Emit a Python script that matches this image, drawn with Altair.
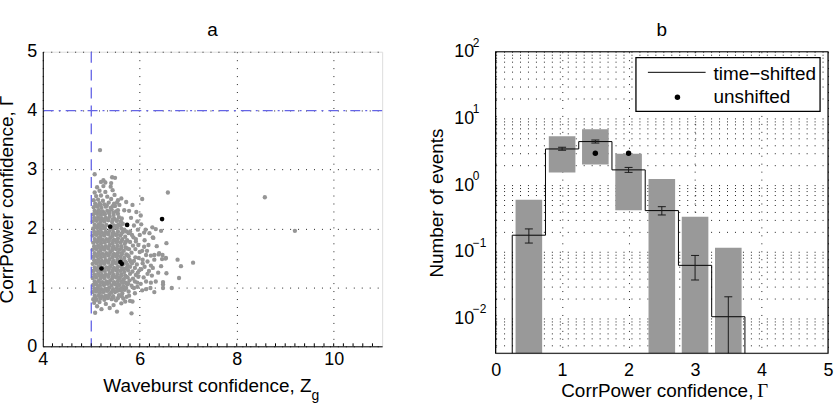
import altair as alt
import pandas as pd

FONT = "Liberation Sans"
BLUE = "#6464e6"
GRAY = "#969696"

# ---------------- panel a: per-event confidences ----------------
gray_points = [
    # low tail
    (5.08, 0.57), (5.53, 0.59), (5.83, 0.56), (5.38, 0.65), (5.12, 0.68), (5.21, 0.63),
    (5.46, 0.70), (5.06, 0.74), (5.30, 0.72), (5.80, 0.77), (5.85, 0.76), (5.62, 0.73), (5.17, 0.75),
    # dense core
    (5.04, 0.80), (5.11, 0.79), (5.19, 0.81), (5.27, 0.79), (5.34, 0.82), (5.42, 0.80), (5.51, 0.78), (5.66, 0.81),
    (5.07, 0.86), (5.15, 0.87), (5.22, 0.85), (5.30, 0.86), (5.37, 0.88), (5.45, 0.85), (5.57, 0.87), (5.73, 0.84),
    (5.03, 0.92), (5.10, 0.93), (5.18, 0.91), (5.25, 0.92), (5.33, 0.94), (5.41, 0.91), (5.49, 0.92), (5.58, 0.95),
    (5.64, 0.90), (5.77, 0.93),
    (5.06, 0.98), (5.13, 0.99), (5.21, 0.97), (5.29, 0.98), (5.37, 1.00), (5.45, 0.97), (5.53, 0.99), (5.61, 0.98),
    (5.69, 0.96), (5.88, 0.99), (5.95, 1.01),
    (5.04, 1.04), (5.11, 1.05), (5.18, 1.03), (5.26, 1.04), (5.34, 1.06), (5.42, 1.03), (5.50, 1.05), (5.58, 1.04),
    (5.66, 1.02), (5.74, 1.05), (5.83, 1.03), (6.02, 1.06),
    (5.07, 1.10), (5.15, 1.11), (5.23, 1.09), (5.31, 1.10), (5.39, 1.12), (5.47, 1.09), (5.55, 1.11), (5.63, 1.10),
    (5.71, 1.08), (5.79, 1.12), (5.90, 1.10),
    (5.03, 1.16), (5.10, 1.17), (5.19, 1.15), (5.27, 1.16), (5.35, 1.18), (5.43, 1.15), (5.51, 1.17), (5.59, 1.16),
    (5.67, 1.14), (5.75, 1.17), (5.86, 1.15), (5.97, 1.18),
    (5.06, 1.22), (5.14, 1.23), (5.22, 1.21), (5.30, 1.22), (5.38, 1.24), (5.46, 1.21), (5.54, 1.23), (5.62, 1.22),
    (5.70, 1.20), (5.80, 1.23), (5.92, 1.21),
    (5.04, 1.28), (5.12, 1.29), (5.20, 1.27), (5.28, 1.28), (5.36, 1.30), (5.44, 1.27), (5.52, 1.29), (5.60, 1.28),
    (5.68, 1.26), (5.76, 1.29), (5.85, 1.27), (5.99, 1.29),
    (5.07, 1.34), (5.15, 1.35), (5.23, 1.33), (5.31, 1.34), (5.39, 1.36), (5.47, 1.33), (5.55, 1.35), (5.63, 1.34),
    (5.71, 1.32), (5.80, 1.35), (5.90, 1.33), (6.03, 1.31),
    (5.03, 1.40), (5.11, 1.41), (5.19, 1.39), (5.27, 1.40), (5.35, 1.42), (5.43, 1.39), (5.51, 1.41), (5.67, 1.40),
    (5.75, 1.38), (5.84, 1.41), (5.94, 1.39),
    (5.06, 1.46), (5.14, 1.47), (5.22, 1.45), (5.30, 1.46), (5.38, 1.48), (5.46, 1.45), (5.54, 1.47), (5.62, 1.46),
    (5.70, 1.44), (5.79, 1.47), (5.88, 1.45), (6.06, 1.47),
    (5.04, 1.52), (5.12, 1.53), (5.20, 1.51), (5.28, 1.52), (5.36, 1.54), (5.44, 1.51), (5.52, 1.53), (5.60, 1.52),
    (5.68, 1.50), (5.77, 1.53), (5.91, 1.51),
    (5.07, 1.58), (5.15, 1.59), (5.23, 1.57), (5.31, 1.58), (5.39, 1.60), (5.47, 1.57), (5.55, 1.59), (5.63, 1.58),
    (5.72, 1.56), (5.83, 1.59), (6.00, 1.60),
    (5.03, 1.64), (5.11, 1.65), (5.19, 1.63), (5.27, 1.64), (5.35, 1.66), (5.43, 1.63), (5.51, 1.65), (5.59, 1.64),
    (5.67, 1.62), (5.78, 1.65),
    (5.06, 1.70), (5.14, 1.71), (5.22, 1.69), (5.30, 1.70), (5.38, 1.72), (5.46, 1.69), (5.54, 1.71), (5.62, 1.70),
    (5.71, 1.68), (5.86, 1.71), (5.97, 1.72),
    (5.04, 1.76), (5.12, 1.77), (5.20, 1.75), (5.28, 1.76), (5.36, 1.78), (5.44, 1.75), (5.52, 1.77), (5.60, 1.76),
    (5.69, 1.74), (5.80, 1.77), (5.92, 1.78),
    (5.07, 1.82), (5.15, 1.83), (5.23, 1.81), (5.31, 1.82), (5.39, 1.84), (5.47, 1.81), (5.55, 1.83), (5.64, 1.82),
    (5.74, 1.80),
    (5.03, 1.88), (5.11, 1.89), (5.19, 1.87), (5.27, 1.88), (5.35, 1.90), (5.43, 1.87), (5.51, 1.89), (5.60, 1.88),
    (5.70, 1.86), (5.84, 1.89),
    (5.06, 1.94), (5.14, 1.95), (5.22, 1.93), (5.30, 1.94), (5.38, 1.96), (5.46, 1.93), (5.55, 1.95), (5.65, 1.94),
    (5.77, 1.92),
    (5.04, 2.00), (5.12, 2.01), (5.20, 1.99), (5.28, 2.00), (5.45, 1.99), (5.53, 2.01), (5.62, 2.00), (5.68, 1.98),
    (5.07, 2.06), (5.15, 2.07), (5.23, 2.05), (5.31, 2.06), (5.47, 2.05), (5.56, 2.07), (5.65, 2.08),
    (5.03, 2.12), (5.11, 2.13), (5.19, 2.11), (5.27, 2.12), (5.35, 2.14), (5.43, 2.11), (5.52, 2.13), (5.61, 2.12),
    (5.06, 2.18), (5.14, 2.19), (5.22, 2.17), (5.30, 2.18), (5.38, 2.20), (5.47, 2.17), (5.57, 2.19),
    (5.04, 2.24), (5.12, 2.25), (5.20, 2.23), (5.28, 2.24), (5.37, 2.26), (5.46, 2.23), (5.55, 2.25), (5.68, 2.31),
    (5.07, 2.30), (5.15, 2.31), (5.24, 2.29), (5.33, 2.30), (5.42, 2.32), (5.51, 2.29),
    (5.05, 2.36), (5.13, 2.37), (5.21, 2.35), (5.30, 2.37), (5.40, 2.35), (5.49, 2.38), (5.58, 2.40),
    (5.08, 2.42), (5.17, 2.43), (5.27, 2.41), (5.36, 2.44), (5.47, 2.42), (5.62, 2.51),
    (5.05, 2.48), (5.14, 2.49), (5.24, 2.47), (5.41, 2.50), (5.55, 2.48),
    (5.10, 2.55), (5.20, 2.56), (5.33, 2.54), (5.48, 2.57), (5.07, 2.61),
    (5.17, 2.64), (5.29, 2.62), (5.44, 2.65),
    (5.12, 2.70), (5.25, 2.72), (5.40, 2.71), (5.29, 2.78),
    (5.20, 2.79), (5.41, 2.77), (5.25, 2.82), (5.43, 2.87), (5.49, 2.86),
    (5.07, 2.92), (5.18, 3.33),
    # in-between core events
    (5.09, 0.83), (5.18, 0.84), (5.27, 0.82), (5.36, 0.84), (5.46, 0.83), (5.55, 0.82), (5.63, 0.85),
    (5.08, 0.95), (5.17, 0.96), (5.26, 0.94), (5.35, 0.96), (5.44, 0.95), (5.53, 0.94), (5.62, 0.96), (5.72, 0.99),
    (5.09, 1.07), (5.19, 1.08), (5.28, 1.06), (5.37, 1.08), (5.46, 1.07), (5.55, 1.06), (5.64, 1.08), (5.76, 1.07),
    (5.08, 1.19), (5.17, 1.20), (5.26, 1.18), (5.35, 1.20), (5.44, 1.19), (5.53, 1.18), (5.62, 1.20), (5.72, 1.18),
    (5.09, 1.31), (5.18, 1.32), (5.27, 1.30), (5.36, 1.32), (5.45, 1.31), (5.54, 1.30), (5.66, 1.31), (5.74, 1.34),
    (5.08, 1.43), (5.17, 1.44), (5.26, 1.42), (5.35, 1.44), (5.44, 1.43), (5.53, 1.42), (5.72, 1.42), (5.81, 1.44),
    (5.09, 1.55), (5.18, 1.56), (5.27, 1.54), (5.36, 1.56), (5.45, 1.55), (5.54, 1.54), (5.63, 1.56), (5.74, 1.55),
    (5.08, 1.67), (5.17, 1.68), (5.26, 1.66), (5.35, 1.68), (5.44, 1.67), (5.53, 1.66), (5.62, 1.67), (5.74, 1.66),
    (5.09, 1.79), (5.18, 1.80), (5.27, 1.78), (5.36, 1.80), (5.45, 1.79), (5.54, 1.78), (5.63, 1.79), (5.71, 1.77),
    (5.08, 1.91), (5.17, 1.92), (5.26, 1.90), (5.35, 1.92), (5.44, 1.91), (5.53, 1.90), (5.62, 1.91), (5.72, 1.95),
    (5.09, 2.03), (5.18, 2.04), (5.27, 2.02), (5.44, 2.03), (5.53, 2.04), (5.60, 2.05),
    (5.08, 2.15), (5.17, 2.16), (5.26, 2.14), (5.35, 2.16), (5.44, 2.15), (5.53, 2.14), (5.63, 2.17),
    (5.09, 2.27), (5.18, 2.28), (5.27, 2.26), (5.37, 2.28), (5.46, 2.27), (5.55, 2.31),
    (5.10, 2.39), (5.19, 2.40), (5.32, 2.39), (5.44, 2.38), (5.53, 2.44),
    # sparse right-hand spread
    (6.05, 2.50), (6.58, 2.61), (8.58, 2.53), (9.20, 1.96), (6.03, 2.07), (6.26, 2.02), (6.33, 1.99),
    (5.96, 1.98), (6.09, 1.93), (6.44, 1.96), (6.27, 1.85), (6.55, 1.75), (5.92, 1.82), (6.09, 1.69),
    (6.13, 1.55), (6.23, 1.54), (6.40, 1.58), (6.47, 1.55), (6.06, 1.41), (6.16, 1.44), (6.30, 1.47),
    (6.54, 1.50), (6.78, 1.47), (6.85, 1.36), (7.10, 1.42), (6.23, 1.37), (6.44, 1.36), (6.16, 1.23),
    (6.55, 1.24), (6.81, 1.16), (6.13, 1.10), (6.23, 1.08), (6.48, 1.09), (6.13, 0.97), (6.48, 0.99),
    (6.66, 0.99), (6.48, 1.05), (6.25, 1.20), (6.28, 1.84), (6.30, 1.55), (6.39, 1.56), (6.46, 1.48),
    (6.53, 1.49), (6.27, 1.33), (6.22, 0.99), (6.00, 1.89), (6.12, 1.98), (6.05, 1.62), (6.18, 1.72),
    (5.82, 2.18), (5.88, 2.05), (5.95, 2.12), (5.78, 2.30), (5.85, 2.40), (5.93, 2.28), (6.02, 2.22),
    (5.72, 2.45), (5.80, 1.95), (5.91, 1.65), (5.87, 1.85), (6.10, 1.80), (6.15, 1.62), (6.20, 1.92),
    (5.98, 1.50), (6.10, 1.35), (6.19, 1.28), (5.96, 1.25), (6.08, 1.17), (5.95, 1.08), (6.05, 0.95),
    (5.90, 0.90), (5.78, 0.86), (5.70, 0.76), (6.35, 1.70), (6.38, 1.25), (6.33, 1.10), (6.30, 0.92),
]
black_points = [(5.39, 2.03), (5.74, 2.06), (6.46, 2.16), (5.21, 1.32), (5.60, 1.43), (5.63, 1.40)]
zg_threshold = [5.0]
gamma_threshold = [4.0]

# ---------------- panel b: event counts per CorrPower bin ----------------
AXIS_FLOOR = 0.003
BELOW_AXIS = 0.001
bin_centers = [0.5, 1.0, 1.5, 2.0, 2.5, 3.0, 3.5]
band_low = [AXIS_FLOOR, 1.55, 2.03, 0.42, AXIS_FLOOR, AXIS_FLOOR, AXIS_FLOOR]
band_high = [0.60, 5.4, 6.9, 2.94, 1.23, 0.336, 0.115]
shifted_mean = [0.177, 3.48, 4.49, 1.69, 0.414, 0.0625, 0.0106]
shifted_lo = [0.135, 3.33, 4.27, 1.55, 0.356, 0.0377, BELOW_AXIS]
shifted_hi = [0.22, 3.69, 4.74, 1.84, 0.474, 0.088, 0.0211]
unshifted_centers = [1.5, 2.0]
unshifted_counts = [3.0, 3.0]
decades = [0.01, 0.1, 1, 10, 100]
decade_exponents = ["\u22122", "\u22121", "0", "1", "2"]

W_A, H_A = 341, 296
W_B, H_B = 334, 303

GRID = dict(grid=True, gridDash=[1, 7], gridColor="#222", gridOpacity=1, gridWidth=1)
LAB = dict(labelFont=FONT, labelFontSize=18, labelColor="black", labelFlush=False, labelOverlap=False)

one = pd.DataFrame({"k": [0]})

# ---------- panel a ----------
xa = alt.Scale(domain=[4, 11], nice=False, zero=False)
ya = alt.Scale(domain=[0, 5], nice=False, zero=False)
pts = pd.DataFrame(gray_points, columns=["zg", "gamma"])
blk = pd.DataFrame(black_points, columns=["zg", "gamma"])

scatter = alt.Chart(pts).mark_circle(size=19, color=GRAY, opacity=1).encode(
    x=alt.X("zg:Q", scale=xa, axis=alt.Axis(values=[4, 6, 8, 10], format="d", ticks=False,
                                             domainColor="black", labelPadding=4, title=None, **GRID, **LAB)),
    y=alt.Y("gamma:Q", scale=ya, axis=alt.Axis(values=[0, 1, 2, 3, 4, 5], format="d", ticks=False,
                                                domainColor="black", labelPadding=6,
                                                title="CorrPower confidence, \u0393",
                                                titleFont=FONT, titleFontSize=19, titleFontWeight="normal",
                                                titleColor="black", titleAngle=270, titleX=-30, titleY=H_A / 2,
                                                titleAlign="center", titleBaseline="alphabetic",
                                                **GRID, **LAB)),
)
black_a = alt.Chart(blk).mark_circle(size=22, color="black", opacity=1).encode(x="zg:Q", y="gamma:Q")
vline = alt.Chart(pd.DataFrame({"zg": zg_threshold})).mark_rule(
    color=BLUE, strokeDash=[11, 7], strokeWidth=1.3).encode(x="zg:Q")
hline = alt.Chart(pd.DataFrame({"gamma": gamma_threshold})).mark_rule(
    color=BLUE, strokeDash=[10, 5, 2, 5], strokeWidth=1.3).encode(y="gamma:Q")
minor_x = [round(4 + 0.2 * i, 2) for i in range(1, 35)]
ticks_a = alt.Chart(pd.DataFrame({"zg": minor_x})).mark_rule(color="black").encode(
    x="zg:Q", y=alt.value(H_A), y2=alt.value(H_A - 3))
title_a = alt.Chart(one).mark_text(text="a", font=FONT, fontSize=19, baseline="alphabetic").encode(
    x=alt.value(W_A / 2), y=alt.value(-15.5))
xt_a = alt.Chart(one).mark_text(text="Waveburst confidence, Z", font=FONT, fontSize=19,
                                 align="right", baseline="alphabetic").encode(
    x=alt.value(270), y=alt.value(H_A + 46))
xt_a_sub = alt.Chart(one).mark_text(text="g", font=FONT, fontSize=14, align="left",
                                     baseline="alphabetic").encode(x=alt.value(270), y=alt.value(H_A + 54))

panel_a = alt.layer(scatter, black_a, vline, hline, ticks_a, title_a, xt_a, xt_a_sub).properties(
    width=W_A, height=H_A)

# ---------- panel b ----------
xb = alt.Scale(domain=[0, 5], nice=False, zero=False)
yb = alt.Scale(type="log", domain=[AXIS_FLOOR, 100], nice=False)
y_grid_vals = [m * 10.0 ** e for e in range(-3, 2) for m in range(1, 10) if m * 10.0 ** e >= 0.004] + [100]

bins = pd.DataFrame({"c": bin_centers, "lo": band_low, "hi": band_high})
bands = alt.Chart(bins).transform_calculate(xl="datum.c - 0.2", xr="datum.c + 0.2").mark_rect(
    color="#999999", clip=True).encode(
    x=alt.X("xl:Q", scale=xb, axis=alt.Axis(values=[0, 1, 2, 3, 4, 5], format="d", ticks=False, domain=False,
                                             labelPadding=8, title=None, **GRID, **LAB)),
    x2="xr:Q",
    y=alt.Y("lo:Q", scale=yb, axis=alt.Axis(values=y_grid_vals, ticks=False, domain=False,
                                             labelPadding=22,
                                             labelExpr="abs(log(datum.value)/LN10 - round(log(datum.value)/LN10)) < 1e-6 ? '10' : ''",
                                             title="Number of events", titleFont=FONT, titleFontSize=19,
                                             titleFontWeight="normal", titleColor="black", titleAngle=270,
                                             titleX=-53, titleY=H_B / 2, titleAlign="center",
                                             titleBaseline="alphabetic", **GRID, **LAB)),
    y2="hi:Q",
)

step_x = [bin_centers[0] - 0.25] + [c - 0.25 for c in bin_centers] + [bin_centers[-1] + 0.25] * 2
step_y = [BELOW_AXIS] + shifted_mean + [shifted_mean[-1], BELOW_AXIS]
steps = pd.DataFrame({"x": step_x, "y": step_y, "i": list(range(len(step_x)))})
step_line = alt.Chart(steps).mark_line(interpolate="step-after", color="black", strokeWidth=1,
                                       clip=True).encode(x="x:Q", y="y:Q", order="i:Q")

errs = pd.DataFrame({"c": bin_centers, "lo": shifted_lo, "hi": shifted_hi})
err_base = alt.Chart(errs).transform_calculate(cl="datum.c - 0.06", cr="datum.c + 0.06")
err_v = err_base.mark_rule(color="#1a1a1a", clip=True).encode(x="c:Q", y="lo:Q", y2="hi:Q")
err_lo = err_base.mark_rule(color="#1a1a1a", clip=True).encode(x="cl:Q", x2="cr:Q", y="lo:Q")
err_hi = err_base.mark_rule(color="#1a1a1a", clip=True).encode(x="cl:Q", x2="cr:Q", y="hi:Q")

unsh = alt.Chart(pd.DataFrame({"c": unshifted_centers, "n": unshifted_counts})).mark_circle(
    size=30, color="black", opacity=1).encode(x="c:Q", y="n:Q")

expo = alt.Chart(pd.DataFrame({"v": decades, "e": decade_exponents})).mark_text(
    font=FONT, fontSize=12, align="left", baseline="middle", dy=-9).encode(
    x=alt.value(-23), y="v:Q", text="e:N")

box = alt.Chart(one).mark_rect(fillOpacity=0, stroke="black", strokeWidth=1.2).encode(
    x=alt.value(0), x2=alt.value(W_B), y=alt.value(0), y2=alt.value(H_B))

leg_box = alt.Chart(one).mark_rect(fill="white", stroke="black", strokeWidth=1.3).encode(
    x=alt.value(141), x2=alt.value(326), y=alt.value(6), y2=alt.value(60))
leg_line = alt.Chart(one).mark_rule(color="black", strokeWidth=1).encode(
    x=alt.value(153), x2=alt.value(211), y=alt.value(20.7))
leg_dot = alt.Chart(one).mark_circle(size=30, color="black", opacity=1).encode(
    x=alt.value(182.7), y=alt.value(45.7))
leg_text = alt.Chart(pd.DataFrame({"label": ["time\u2212shifted", "unshifted"], "py": [28.5, 52]})).mark_text(
    font=FONT, fontSize=19, align="left", baseline="alphabetic").encode(
    x=alt.value(219), y=alt.Y("py:Q", scale=None), text="label:N")

title_b = alt.Chart(one).mark_text(text="b", font=FONT, fontSize=19, baseline="alphabetic").encode(
    x=alt.value(W_B / 2), y=alt.value(-15.5))
xt_b = alt.Chart(one).mark_text(text="CorrPower confidence,", font=FONT, fontSize=19, align="right",
                                 baseline="alphabetic").encode(x=alt.value(259), y=alt.value(H_B + 44))
xt_b_g = alt.Chart(one).mark_text(text="\u0393", font="Liberation Serif", fontSize=19, align="left",
                                   baseline="alphabetic").encode(x=alt.value(263), y=alt.value(H_B + 44))

panel_b = alt.layer(bands, step_line, err_v, err_lo, err_hi, unsh, expo, box,
                    leg_box, leg_line, leg_dot, leg_text, title_b, xt_b, xt_b_g).properties(
    width=W_B, height=H_B)

chart = alt.hconcat(panel_a, panel_b, spacing=114, bounds="flush").configure_view(
    stroke=None).configure(font=FONT).properties(
    padding={"left": -3, "top": 20, "right": 0, "bottom": 0})

chart.save("out.html", embed_options={"renderer": "svg", "actions": False})
